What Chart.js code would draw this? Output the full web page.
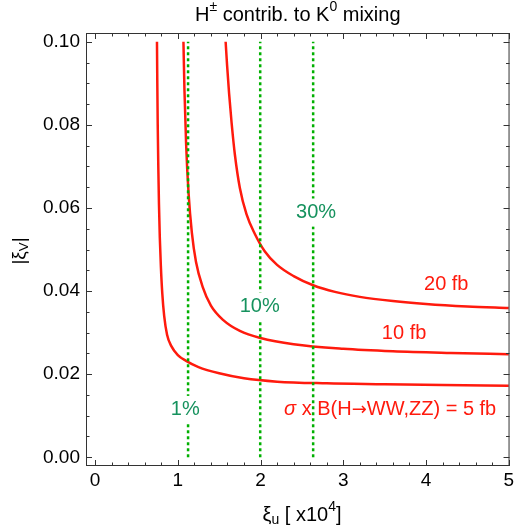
<!DOCTYPE html>
<html>
<head>
<meta charset="utf-8">
<script src="https://cdn.jsdelivr.net/npm/chart.js@4.4.1/dist/chart.umd.min.js"></script>
<style>
  body { margin: 0; background: #fff; }
  #wrap { width: 517px; height: 530px; }
</style>
</head>
<body>
<div id="wrap"><canvas id="chart" width="517" height="530"></canvas></div>
<script>
// axis ticks
const xTicks = [0, 1, 2, 3, 4, 5];
const yTicks = [0, 0.02, 0.04, 0.06, 0.08, 0.10];

// sigma x B = 5 fb
const c5x = [0.748, 0.752, 0.757, 0.764, 0.772, 0.782, 0.795, 0.812, 0.835, 0.87, 0.92, 1.0, 1.1, 1.25, 1.5, 1.8, 2.2, 2.8, 3.5, 4.2, 5.0];
const c5y = [0.100, 0.090, 0.080, 0.070, 0.061, 0.053, 0.046, 0.0395, 0.0340, 0.0295, 0.0268, 0.0246, 0.0232, 0.0217, 0.0202, 0.0190, 0.0182, 0.0178, 0.0176, 0.0174, 0.0172];
// 10 fb
const c10x = [1.068, 1.08, 1.10, 1.13, 1.17, 1.22, 1.30, 1.40, 1.55, 1.75, 2.0, 2.4, 3.0, 3.6, 4.3, 5.0];
const c10y = [0.100, 0.0885, 0.0755, 0.0635, 0.054, 0.047, 0.041, 0.0365, 0.0330, 0.0304, 0.0287, 0.0272, 0.0261, 0.0255, 0.0251, 0.0248];
// 20 fb
const c20x = [1.578, 1.595, 1.62, 1.65, 1.69, 1.75, 1.83, 1.93, 2.05, 2.2, 2.4, 2.636, 2.9, 3.2, 3.6, 4.0, 4.5, 5.0];
const c20y = [0.100, 0.0945, 0.0875, 0.0805, 0.0728, 0.0648, 0.0585, 0.0538, 0.0496, 0.0463, 0.0436, 0.0414, 0.0398, 0.0386, 0.0376, 0.0369, 0.0363, 0.0359];

// K0 mixing contribution contours (vertical)
const ratioX = [1.124, 1.996, 2.636];

const FONT = '"Liberation Sans", Arial, sans-serif';
const SYM = '"DejaVu Sans", sans-serif';
const RED = '#ff1a0d';
const GREEN_LINE = '#00b000';
const GREEN_TEXT = '#16925e';

function pts(xs, ys) {
  return xs.map((x, i) => ({ x: x, y: ys[i] }));
}

const datasets = [];
ratioX.forEach(x => {
  datasets.push({
    data: [{ x: x, y: 0 }, { x: x, y: 0.1 }],
    showLine: true,
    borderColor: GREEN_LINE,
    borderWidth: 2.5,
    borderDash: [3, 3],
    pointRadius: 0
  });
});
[[c5x, c5y], [c10x, c10y], [c20x, c20y]].forEach(c => {
  datasets.push({
    data: pts(c[0], c[1]),
    showLine: true,
    borderColor: RED,
    borderWidth: 2.5,
    pointRadius: 0,
    cubicInterpolationMode: 'monotone'
  });
});

// text runs: [text, mode] mode: '', 'sup', 'sub', 'it', 'sym'
function fontFor(mode, size) {
  const s = (mode === 'sup' || mode === 'sub') ? size * 0.7 : size;
  if (mode === 'it') return 'italic ' + s + 'px ' + FONT;
  if (mode === 'sym') return (s * 0.9) + 'px ' + SYM;
  return s + 'px ' + FONT;
}
function runWidth(ctx, runs, size) {
  let w = 0;
  runs.forEach(r => {
    ctx.font = fontFor(r[1], size);
    w += ctx.measureText(r[0]).width;
  });
  return w;
}
function drawRuns(ctx, runs, size, cx, cy, color, bg) {
  const w = runWidth(ctx, runs, size);
  let x = cx - w / 2;
  if (bg) {
    ctx.fillStyle = bg;
    ctx.fillRect(x - 3, cy - size * 0.7, w + 6, size * 1.4);
  }
  ctx.fillStyle = color;
  ctx.textBaseline = 'middle';
  ctx.textAlign = 'left';
  runs.forEach(r => {
    let dy = 0;
    if (r[1] === 'sup') dy = -size * 0.38;
    if (r[1] === 'sub') dy = size * 0.25;
    ctx.font = fontFor(r[1], size);
    ctx.fillText(r[0], x, cy + dy);
    x += ctx.measureText(r[0]).width;
  });
}

const labels = [
  { runs: [['1%', '']], x: 1.09, y: 0.0114, color: GREEN_TEXT, bg: '#fff' },
  { runs: [['10%', '']], x: 1.99, y: 0.0363, color: GREEN_TEXT, bg: '#fff' },
  { runs: [['30%', '']], x: 2.672, y: 0.0589, color: GREEN_TEXT, bg: '#fff' },
  { runs: [['20 fb', '']], x: 4.245, y: 0.0415, color: RED },
  { runs: [['10 fb', '']], x: 3.735, y: 0.0298, color: RED },
  { runs: [['\u03c3', 'it'], [' x B(H', ''], ['\u2192', 'sym'], ['WW,ZZ) = 5 fb', '']], x: 3.567, y: 0.0114, color: RED }
];

const framePlugin = {
  id: 'frame',
  afterDraw(chart) {
    const ctx = chart.ctx;
    const a = chart.chartArea;
    const xs = chart.scales.x, ys = chart.scales.y;
    ctx.save();

    // annotations
    labels.forEach(l => {
      drawRuns(ctx, l.runs, 20, xs.getPixelForValue(l.x), ys.getPixelForValue(l.y), l.color, l.bg);
    });

    ctx.strokeStyle = '#333';
    ctx.lineWidth = 1;
    ctx.strokeRect(a.left + 0.5, a.top + 0.5, a.right - a.left - 1, a.bottom - a.top - 1);
    // inward ticks
    ctx.beginPath();
    for (let i = 0; i <= 25; i++) {
      const v = i * 0.2;
      const len = (i % 5 === 0) ? 6 : 3.5;
      const px = Math.round(xs.getPixelForValue(v)) + 0.5;
      ctx.moveTo(px, a.bottom); ctx.lineTo(px, a.bottom - len);
      ctx.moveTo(px, a.top); ctx.lineTo(px, a.top + len);
    }
    for (let i = 0; i <= 20; i++) {
      const v = i * 0.005;
      const len = (i % 4 === 0) ? 6 : 3.5;
      const py = Math.round(ys.getPixelForValue(v)) + 0.5;
      ctx.moveTo(a.left, py); ctx.lineTo(a.left + len, py);
      ctx.moveTo(a.right, py); ctx.lineTo(a.right - len, py);
    }
    ctx.stroke();

    // title
    drawRuns(ctx, [['H', ''], ['\u00b1', 'sup'], [' contrib. to K', ''], ['0', 'sup'], [' mixing', '']],
      20, (a.left + a.right) / 2, 15, '#000');
    // x title
    drawRuns(ctx, [['\u03be', ''], ['u', 'sub'], [' [ x10', ''], ['4', 'sup'], [']', '']],
      20, 302, 515, '#000');
    // y title
    ctx.save();
    ctx.translate(20, 251);
    ctx.rotate(-Math.PI / 2);
    drawRuns(ctx, [['|\u03be', ''], ['V', 'sub'], ['|', '']], 19, 0, 0, '#000');
    ctx.restore();

    ctx.restore();
  }
};

new Chart(document.getElementById('chart').getContext('2d'), {
  type: 'scatter',
  data: { datasets: datasets },
  options: {
    responsive: false,
    animation: false,
    layout: { padding: { top: 33, right: 4, left: 0, bottom: 0 } },
    plugins: { legend: { display: false }, tooltip: { enabled: false }, title: { display: false } },
    scales: {
      x: {
        type: 'linear',
        min: -0.11,
        max: 5.01,
        grid: { display: false, drawTicks: false },
        border: { display: false },
        afterBuildTicks: s => { s.ticks = xTicks.map(v => ({ value: v })); },
        afterFit: s => { s.height = 64; },
        ticks: {
          padding: 3,
          color: '#000',
          font: { family: FONT, size: 19 },
          maxRotation: 0,
          callback: v => String(v)
        }
      },
      y: {
        type: 'linear',
        min: -0.0021,
        max: 0.1021,
        grid: { display: false, drawTicks: false },
        border: { display: false },
        afterBuildTicks: s => { s.ticks = yTicks.map(v => ({ value: v })); },
        afterFit: s => { s.width = 86; },
        ticks: {
          padding: 6,
          color: '#000',
          font: { family: FONT, size: 19 },
          callback: v => v.toFixed(2)
        }
      }
    }
  },
  plugins: [framePlugin]
});
</script>
</body>
</html>
